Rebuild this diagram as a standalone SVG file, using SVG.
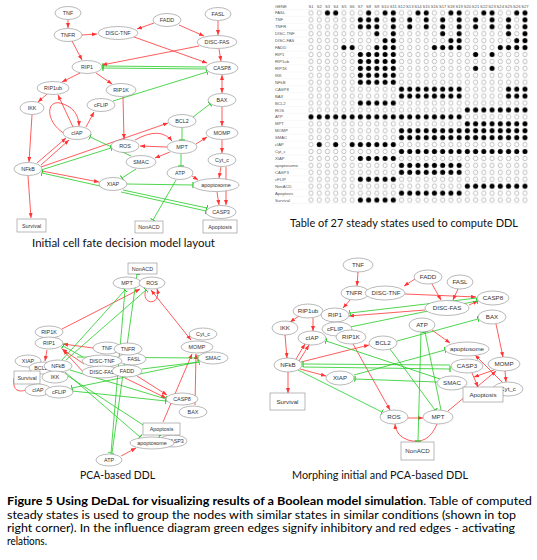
<svg xmlns="http://www.w3.org/2000/svg" width="537" height="560" viewBox="0 0 537 560">
<style>
.n ellipse,.n rect{fill:#fff;stroke:#8a8a8a;stroke-width:0.6}
.n text{font-family:"Liberation Sans",Arial,sans-serif;font-size:5.4px;fill:#333;text-anchor:middle}
.p3 text{font-size:6.2px}
.r{stroke:#f33;stroke-width:0.8;fill:none;marker-end:url(#ar)}
.rb{marker-start:url(#ar)}
.g{stroke:#2c2;stroke-width:0.8;fill:none;marker-end:url(#tb)}
.cap{font-family:Lato,"Open Sans",sans-serif;font-size:10.5px;fill:#111}
.tl{font-family:"Liberation Sans",Arial,sans-serif;font-size:4.2px;fill:#555}
.th{font-family:"Liberation Sans",Arial,sans-serif;font-size:4.2px;fill:#555;text-anchor:middle}
.fd{fill:url(#dotF)}
.para{font-family:Lato,"Open Sans",sans-serif;font-size:11px;fill:#000}
</style>
<defs>
<marker id="ar" viewBox="0 0 10 8" refX="10" refY="4" markerWidth="5" markerHeight="4" orient="auto-start-reverse" markerUnits="userSpaceOnUse"><path d="M0,0 L10,4 L0,8 z" fill="#f33"/></marker>
<marker id="tb" viewBox="0 0 2 10" refX="1" refY="5" markerWidth="1.2" markerHeight="6" orient="auto" markerUnits="userSpaceOnUse"><rect x="0" y="0" width="2" height="10" fill="#2c2"/></marker>
<pattern id="dotO" patternUnits="userSpaceOnUse" x="306.885" y="2.535" width="8.23" height="6.93"><circle cx="4.115" cy="3.465" r="2.2" fill="#fff" stroke="#999" stroke-width="0.6"/></pattern>
<pattern id="dotF" patternUnits="userSpaceOnUse" x="306.885" y="2.535" width="8.23" height="6.93"><circle cx="4.115" cy="3.465" r="2.5" fill="#000"/></pattern>
</defs>
<rect width="537" height="560" fill="#fff"/>

<!-- ============ PANEL 1 : connectors ============ -->
<g id="p1-edges">
<path class="r" d="M68,20 L68,28"/>
<path class="r" d="M82,35 L97,34"/>
<path class="r" d="M154,23 L137,29"/>
<path class="r" d="M179,25 L204,36"/>
<path class="r" d="M218,21 L218,35"/>
<path class="r" d="M72,41 L82,60"/>
<path class="r" d="M134,37 L207,63"/>
<path class="r" d="M199,46 L102,65"/>
<path class="r" d="M219,49 L221,61"/>
<path class="g" d="M206,67 L103,66"/>
<path class="g" d="M206,69 L103,68"/>
<path class="r" d="M80,73 L62,82"/>
<path class="r" d="M96,73 L112,84"/>
<path class="r" d="M47,94 L38,102"/>
<path class="g" d="M113,101 L207,72"/>
<path class="r rb" d="M222,75 L222,93"/>
<path class="r" d="M123,97 L124,139"/>
<path class="r" d="M32,115 L29,162"/>
<path class="r" d="M73,127 L58,95"/>
<path class="r" d="M65,134 C45,122 46,100 60,103 C72,106 79,114 79,126"/>
<path class="r" d="M86,127 L94,112"/>
<path class="r" d="M37,163 L66,138"/>
<path class="r" d="M41,165 L69,140"/>
<path class="r" d="M41,167 L168,123"/>
<path class="g" d="M41,170 L111,148"/>
<path class="g" d="M131,156 L90,137"/>
<path class="g" d="M136,169 L122,178"/>
<path class="r" d="M42,171 L99,182"/>
<path class="g" d="M100,186 L42,173"/>
<path class="r" d="M28,176 L31,218"/>
<path class="g" d="M127,184 L193,185"/>
<path class="g" d="M123,190 L207,208"/>
<path class="g" d="M121,192 L206,211"/>
<path class="g" d="M193,117 L210,104"/>
<path class="g" d="M182,128 L182,140"/>
<path class="r" d="M167,147 L140,146"/>
<path class="r" d="M170,152 L155,158"/>
<path class="r" d="M196,144 L207,137"/>
<path class="r" d="M135,140 Q160,126 172,141"/>
<path class="g" d="M181,154 L181,166"/>
<path class="g" d="M176,180 L153,220"/>
<path class="r" d="M192,176 L198,180"/>
<path class="r" d="M222,107 L222,126"/>
<path class="r" d="M222,140 L222,153"/>
<path class="r" d="M221,167 L219,178"/>
<path class="r" d="M217,192 L219,205"/>
<path class="r" d="M226,167 L226,205"/>
</g>

<!-- ============ PANEL 1 : nodes ============ -->
<g id="p1-TNF" class="n"><ellipse cx="68" cy="13" rx="13" ry="6.5"/><text x="68" y="15">TNF</text></g>
<g id="p1-TNFR" class="n"><ellipse cx="68" cy="35" rx="14" ry="6.5"/><text x="68" y="37">TNFR</text></g>
<g id="p1-DISC-TNF" class="n"><ellipse cx="118" cy="33" rx="20" ry="6.5"/><text x="118" y="35">DISC-TNF</text></g>
<g id="p1-FADD" class="n"><ellipse cx="167" cy="20" rx="14" ry="6.5"/><text x="167" y="22">FADD</text></g>
<g id="p1-FASL" class="n"><ellipse cx="218" cy="14" rx="13" ry="6.5"/><text x="218" y="16">FASL</text></g>
<g id="p1-DISC-FAS" class="n"><ellipse cx="217" cy="42" rx="20" ry="6.5"/><text x="217" y="44">DISC-FAS</text></g>
<g id="p1-RIP1" class="n"><ellipse cx="87" cy="67" rx="15" ry="6.5"/><text x="87" y="69">RIP1</text></g>
<g id="p1-CASP8" class="n"><ellipse cx="222" cy="68" rx="16" ry="6.5"/><text x="222" y="70">CASP8</text></g>
<g id="p1-RIP1ub" class="n"><ellipse cx="53" cy="88" rx="16" ry="6.5"/><text x="53" y="90">RIP1ub</text></g>
<g id="p1-RIP1K" class="n"><ellipse cx="121" cy="90" rx="15" ry="6.5"/><text x="121" y="92">RIP1K</text></g>
<g id="p1-IKK" class="n"><ellipse cx="32" cy="108" rx="12" ry="6.5"/><text x="32" y="110">IKK</text></g>
<g id="p1-cFLIP" class="n"><ellipse cx="101" cy="105" rx="14" ry="6.5"/><text x="101" y="107">cFLIP</text></g>
<g id="p1-BAX" class="n"><ellipse cx="222" cy="100" rx="14" ry="6.5"/><text x="222" y="102">BAX</text></g>
<g id="p1-cIAP" class="n"><ellipse cx="77" cy="133" rx="14" ry="6.5"/><text x="77" y="135">cIAP</text></g>
<g id="p1-BCL2" class="n"><ellipse cx="182" cy="121" rx="14" ry="6.5"/><text x="182" y="123">BCL2</text></g>
<g id="p1-MOMP" class="n"><ellipse cx="222" cy="133" rx="16" ry="6.5"/><text x="222" y="135">MOMP</text></g>
<g id="p1-ROS" class="n"><ellipse cx="125" cy="146" rx="14" ry="6.5"/><text x="125" y="148">ROS</text></g>
<g id="p1-MPT" class="n"><ellipse cx="182" cy="147" rx="15" ry="6.5"/><text x="182" y="149">MPT</text></g>
<g id="p1-SMAC" class="n"><ellipse cx="141" cy="162" rx="15" ry="6.5"/><text x="141" y="164">SMAC</text></g>
<g id="p1-NFkB" class="n"><ellipse cx="28" cy="169" rx="14" ry="6.5"/><text x="28" y="171">NFkB</text></g>
<g id="p1-Cyt_c" class="n"><ellipse cx="222" cy="160" rx="14" ry="6.5"/><text x="222" y="162">Cyt_c</text></g>
<g id="p1-ATP" class="n"><ellipse cx="180" cy="173" rx="13" ry="6.5"/><text x="180" y="175">ATP</text></g>
<g id="p1-XIAP" class="n"><ellipse cx="113" cy="184" rx="14" ry="6.5"/><text x="113" y="186">XIAP</text></g>
<g id="p1-apoptosome" class="n"><ellipse cx="216" cy="185" rx="23" ry="6.5"/><text x="216" y="187">apoptosome</text></g>
<g id="p1-CASP3" class="n"><ellipse cx="221" cy="212" rx="15" ry="6.5"/><text x="221" y="214">CASP3</text></g>
<g id="p1-Survival" class="n"><rect x="17" y="219" width="29" height="13"/><text x="31.5" y="227.5">Survival</text></g>
<g id="p1-NonACD" class="n"><rect x="135" y="221" width="28" height="12"/><text x="149" y="229">NonACD</text></g>
<g id="p1-Apoptosis" class="n"><rect x="203" y="220" width="34" height="13"/><text x="220" y="228.5">Apoptosis</text></g>

<text class="cap" x="32" y="247" textLength="183" lengthAdjust="spacingAndGlyphs">Initial cell fate decision model layout</text>

<!-- ============ TABLE ============ -->
<g id="table">
<g stroke="#eeeeee" stroke-width="0.4">
<path d="M273,9.465 H529 M273,16.395 H529 M273,23.325 H529 M273,30.255 H529 M273,37.185 H529 M273,44.115 H529 M273,51.045 H529 M273,57.975 H529 M273,64.905 H529 M273,71.835 H529 M273,78.765 H529 M273,85.695 H529 M273,92.625 H529 M273,99.555 H529 M273,106.485 H529 M273,113.415 H529 M273,120.345 H529 M273,127.275 H529 M273,134.205 H529 M273,141.135 H529 M273,148.065 H529 M273,154.995 H529 M273,161.925 H529 M273,168.855 H529 M273,175.785 H529 M273,182.715 H529 M273,189.645 H529 M273,196.575 H529 M273,203.5 H529"/>
</g>
<rect x="306.885" y="9.465" width="222.21" height="194.04" fill="url(#dotO)"/>
<rect class="fd" x="323.345" y="9.465" width="16.46" height="6.93"/>
<rect class="fd" x="364.495" y="9.465" width="8.23" height="6.93"/>
<rect class="fd" x="380.955" y="9.465" width="16.46" height="6.93"/>
<rect class="fd" x="413.875" y="9.465" width="16.46" height="6.93"/>
<rect class="fd" x="446.795" y="9.465" width="16.46" height="6.93"/>
<rect class="fd" x="479.715" y="9.465" width="16.46" height="6.93"/>
<rect class="fd" x="512.635" y="9.465" width="16.46" height="6.93"/>
<rect class="fd" x="356.265" y="16.395" width="24.69" height="13.86"/>
<rect class="fd" x="389.185" y="16.395" width="8.23" height="13.86"/>
<rect class="fd" x="405.645" y="16.395" width="8.23" height="13.86"/>
<rect class="fd" x="422.105" y="16.395" width="8.23" height="13.86"/>
<rect class="fd" x="438.565" y="16.395" width="8.23" height="13.86"/>
<rect class="fd" x="455.025" y="16.395" width="8.23" height="13.86"/>
<rect class="fd" x="471.485" y="16.395" width="8.23" height="13.86"/>
<rect class="fd" x="487.945" y="16.395" width="8.23" height="13.86"/>
<rect class="fd" x="504.405" y="16.395" width="8.23" height="13.86"/>
<rect class="fd" x="520.865" y="16.395" width="8.23" height="13.86"/>
<rect class="fd" x="372.725" y="30.255" width="8.23" height="6.93"/>
<rect class="fd" x="389.185" y="30.255" width="8.23" height="6.93"/>
<rect class="fd" x="438.565" y="30.255" width="8.23" height="6.93"/>
<rect class="fd" x="455.025" y="30.255" width="8.23" height="6.93"/>
<rect class="fd" x="504.405" y="30.255" width="8.23" height="6.93"/>
<rect class="fd" x="520.865" y="30.255" width="8.23" height="6.93"/>
<rect class="fd" x="380.955" y="37.185" width="16.46" height="6.93"/>
<rect class="fd" x="446.795" y="37.185" width="16.46" height="6.93"/>
<rect class="fd" x="512.635" y="37.185" width="16.46" height="6.93"/>
<rect class="fd" x="339.805" y="44.115" width="16.46" height="6.93"/>
<rect class="fd" x="372.725" y="44.115" width="24.69" height="6.93"/>
<rect class="fd" x="430.335" y="44.115" width="32.92" height="6.93"/>
<rect class="fd" x="496.175" y="44.115" width="32.92" height="6.93"/>
<rect class="fd" x="356.265" y="51.045" width="41.15" height="34.65"/>
<rect class="fd" x="471.485" y="51.045" width="8.23" height="6.93"/>
<rect class="fd" x="487.945" y="51.045" width="8.23" height="6.93"/>
<rect class="fd" x="471.485" y="64.905" width="8.23" height="6.93"/>
<rect class="fd" x="487.945" y="64.905" width="8.23" height="6.93"/>
<rect class="fd" x="397.415" y="85.695" width="65.84" height="13.86"/>
<rect class="fd" x="504.405" y="85.695" width="24.69" height="13.86"/>
<rect class="fd" x="356.265" y="99.555" width="41.15" height="6.93"/>
<rect class="fd" x="463.255" y="106.485" width="65.84" height="6.93"/>
<rect class="fd" x="306.885" y="113.415" width="156.37" height="6.93"/>
<rect class="fd" x="463.255" y="120.345" width="65.84" height="6.93"/>
<rect class="fd" x="397.415" y="127.275" width="131.68" height="13.86"/>
<rect class="fd" x="315.115" y="141.135" width="8.23" height="6.93"/>
<rect class="fd" x="331.575" y="141.135" width="8.23" height="6.93"/>
<rect class="fd" x="348.035" y="141.135" width="49.38" height="6.93"/>
<rect class="fd" x="397.415" y="148.065" width="131.68" height="6.93"/>
<rect class="fd" x="356.265" y="154.995" width="41.15" height="6.93"/>
<rect class="fd" x="397.415" y="161.925" width="65.84" height="13.86"/>
<rect class="fd" x="356.265" y="175.785" width="41.15" height="6.93"/>
<rect class="fd" x="463.255" y="182.715" width="65.84" height="6.93"/>
<rect class="fd" x="397.415" y="189.645" width="65.84" height="6.93"/>
<rect class="fd" x="356.265" y="196.575" width="41.15" height="6.93"/>
<text class="tl" x="275" y="7.5">GENE</text>
<text class="tl" x="275" y="14.4">FASL</text>
<text class="tl" x="275" y="21.4">TNF</text>
<text class="tl" x="275" y="28.3">TNFR</text>
<text class="tl" x="275" y="35.2">DISC-TNF</text>
<text class="tl" x="275" y="42.2">DISC-FAS</text>
<text class="tl" x="275" y="49.1">FADD</text>
<text class="tl" x="275" y="56.0">RIP1</text>
<text class="tl" x="275" y="63.0">RIP1ub</text>
<text class="tl" x="275" y="69.9">RIP1K</text>
<text class="tl" x="275" y="76.8">IKK</text>
<text class="tl" x="275" y="83.8">NFkB</text>
<text class="tl" x="275" y="90.7">CASP8</text>
<text class="tl" x="275" y="97.6">BAX</text>
<text class="tl" x="275" y="104.5">BCL2</text>
<text class="tl" x="275" y="111.5">ROS</text>
<text class="tl" x="275" y="118.4">ATP</text>
<text class="tl" x="275" y="125.3">MPT</text>
<text class="tl" x="275" y="132.3">MOMP</text>
<text class="tl" x="275" y="139.2">SMAC</text>
<text class="tl" x="275" y="146.1">cIAP</text>
<text class="tl" x="275" y="153.1">Cyt_c</text>
<text class="tl" x="275" y="160.0">XIAP</text>
<text class="tl" x="275" y="166.9">apoptosome</text>
<text class="tl" x="275" y="173.9">CASP3</text>
<text class="tl" x="275" y="180.8">cFLIP</text>
<text class="tl" x="275" y="187.7">NonACD</text>
<text class="tl" x="275" y="194.6">Apoptosis</text>
<text class="tl" x="275" y="201.6">Survival</text>
<text class="th" x="311" y="7.5">S1</text>
<text class="th" x="319.23" y="7.5">S2</text>
<text class="th" x="327.46" y="7.5">S3</text>
<text class="th" x="335.69" y="7.5">S4</text>
<text class="th" x="343.92" y="7.5">S5</text>
<text class="th" x="352.15" y="7.5">S6</text>
<text class="th" x="360.38" y="7.5">S7</text>
<text class="th" x="368.61" y="7.5">S8</text>
<text class="th" x="376.84" y="7.5">S9</text>
<text class="th" x="385.07" y="7.5">S10</text>
<text class="th" x="393.3" y="7.5">S11</text>
<text class="th" x="401.53" y="7.5">S12</text>
<text class="th" x="409.76" y="7.5">S13</text>
<text class="th" x="417.99" y="7.5">S14</text>
<text class="th" x="426.22" y="7.5">S15</text>
<text class="th" x="434.45" y="7.5">S16</text>
<text class="th" x="442.68" y="7.5">S17</text>
<text class="th" x="450.91" y="7.5">S18</text>
<text class="th" x="459.14" y="7.5">S19</text>
<text class="th" x="467.37" y="7.5">S20</text>
<text class="th" x="475.6" y="7.5">S21</text>
<text class="th" x="483.83" y="7.5">S22</text>
<text class="th" x="492.06" y="7.5">S23</text>
<text class="th" x="500.29" y="7.5">S24</text>
<text class="th" x="508.52" y="7.5">S25</text>
<text class="th" x="516.75" y="7.5">S26</text>
<text class="th" x="524.98" y="7.5">S27</text>
</g>
<text class="cap" x="290" y="227" textLength="228" lengthAdjust="spacingAndGlyphs">Table of 27 steady states used to compute DDL</text>

<!-- ============ PANEL 2 : connectors ============ -->
<g id="p2-edges">
<path class="r" d="M62,329 L140,289"/>
<path class="r" d="M146,289 C140,306 162,306 157,289"/>
<path class="r rb" d="M151,290 L191,340"/>
<path class="r" d="M93,348 L63,344"/>
<path class="r" d="M84,364 L62,349"/>
<path class="r" d="M85,374 L63,350"/>
<path class="r" d="M137,376 L167,395"/>
<path class="r" d="M125,378 L166,398"/>
<path class="r" d="M163,422 L192,354"/>
<path class="r" d="M195,405 L196,354"/>
<path class="r" d="M121,456 L136,448"/>
<path class="r" d="M47,350 L45,361"/>
<path d="M14,378 C12,392 20,392 26,390" stroke="#f33" stroke-width="0.8" fill="none"/>
<path class="g" d="M77,357 L198,358"/>
<path class="g" d="M142,369 L199,362"/>
<path class="g" d="M62,360 L125,290"/>
<path class="g" d="M66,360 L146,290"/>
<path class="g" d="M125,290 L111,453"/>
<path class="g" d="M112,453 L137,274"/>
<path class="g" d="M70,370 L166,399"/>
<path class="g" d="M72,391 L166,401"/>
<path class="g" d="M65,372 L140,437"/>
<path class="g" d="M68,376 L160,436"/>
<path class="g" d="M198,362 L72,388"/>
<path class="g" d="M83,357 L63,346"/>
</g>

<!-- ============ PANEL 2 : nodes ============ -->
<g id="p2-NonACD" class="n"><rect x="128" y="263" width="29" height="11"/><text x="142.5" y="270.5">NonACD</text></g>
<g id="p2-MPT" class="n"><ellipse cx="127" cy="283" rx="14" ry="6"/><text x="127" y="285">MPT</text></g>
<g id="p2-ROS" class="n"><ellipse cx="152" cy="283" rx="13" ry="6"/><text x="152" y="285">ROS</text></g>
<g id="p2-RIP1K" class="n"><ellipse cx="49" cy="332" rx="14" ry="6"/><text x="49" y="334">RIP1K</text></g>
<g id="p2-RIP1" class="n"><ellipse cx="49" cy="343" rx="14" ry="6"/><text x="49" y="345">RIP1</text></g>
<g id="p2-Cyt_c" class="n"><ellipse cx="203" cy="334" rx="14" ry="6"/><text x="203" y="336">Cyt_c</text></g>
<g id="p2-MOMP" class="n"><ellipse cx="197" cy="347" rx="16" ry="6"/><text x="197" y="349">MOMP</text></g>
<g id="p2-SMAC" class="n"><ellipse cx="213" cy="358" rx="15" ry="6"/><text x="213" y="360">SMAC</text></g>
<g id="p2-FASL" class="n"><ellipse cx="132" cy="359" rx="14" ry="6"/><text x="134" y="361">FASL</text></g>
<g id="p2-TNF" class="n"><ellipse cx="107" cy="348" rx="14" ry="6"/><text x="107" y="350">TNF</text></g>
<g id="p2-TNFR" class="n"><ellipse cx="128" cy="349" rx="14" ry="6"/><text x="128" y="351">TNFR</text></g>
<g id="p2-DISC-TNF" class="n"><ellipse cx="102" cy="361" rx="20" ry="6"/><text x="102" y="363">DISC-TNF</text></g>
<g id="p2-DISC-FAS" class="n"><ellipse cx="102" cy="372" rx="20" ry="6"/><text x="102" y="374">DISC-FAS</text></g>
<g id="p2-FADD" class="n"><ellipse cx="127" cy="371" rx="15" ry="6"/><text x="127" y="373">FADD</text></g>
<g id="p2-XIAP" class="n"><ellipse cx="28" cy="361" rx="13" ry="6"/><text x="28" y="363">XIAP</text></g>
<g id="p2-BCL2" class="n"><ellipse cx="43" cy="368" rx="14" ry="6"/><text x="41" y="370">BCL2</text></g>
<g id="p2-Survival" class="n"><rect x="14" y="371" width="26" height="13"/><text x="27" y="379.5">Survival</text></g>
<g id="p2-NFkB" class="n"><ellipse cx="58" cy="366" rx="14" ry="6"/><text x="58" y="368">NFkB</text></g>
<g id="p2-IKK" class="n"><ellipse cx="55" cy="377" rx="13" ry="6"/><text x="55" y="379">IKK</text></g>
<g id="p2-cIAP" class="n"><ellipse cx="38" cy="390" rx="13" ry="6"/><text x="38" y="392">cIAP</text></g>
<g id="p2-cFLIP" class="n"><ellipse cx="59" cy="392" rx="14" ry="6"/><text x="59" y="394">cFLIP</text></g>
<g id="p2-CASP8" class="n"><ellipse cx="182" cy="399" rx="16" ry="6"/><text x="182" y="401">CASP8</text></g>
<g id="p2-BAX" class="n"><ellipse cx="193" cy="412" rx="14" ry="6"/><text x="193" y="414">BAX</text></g>
<g id="p2-CASP3" class="n"><ellipse cx="173" cy="441" rx="14" ry="6"/><text x="175" y="443">CASP3</text></g>
<g id="p2-apoptosome" class="n"><ellipse cx="152" cy="443" rx="22" ry="6"/><text x="152" y="445">apoptosome</text></g>
<g id="p2-Apoptosis" class="n"><rect x="143" y="423" width="37" height="12"/><text x="161.5" y="431">Apoptosis</text></g>
<g id="p2-ATP" class="n"><ellipse cx="109" cy="460" rx="13" ry="6"/><text x="109" y="462">ATP</text></g>

<text class="cap" x="80" y="479" textLength="75" lengthAdjust="spacingAndGlyphs">PCA-based DDL</text>

<!-- ============ PANEL 3 : connectors ============ -->
<g id="p3-edges">
<path class="r" d="M358,272 L357,286"/>
<path class="r" d="M415,279 L404,286"/>
<path class="r" d="M432,284 L441,300"/>
<path class="r" d="M458,289 L453,300"/>
<path class="r" d="M405,294 L476,297"/>
<path class="r" d="M469,305 L478,301"/>
<path class="r" d="M425,310 L349,316"/>
<path class="r" d="M350,300 L343,308"/>
<path class="r" d="M299,316 L290,322"/>
<path class="r" d="M313,318 L313,331"/>
<path class="r" d="M285,335 L287,358"/>
<path class="r" d="M296,359 L305,344"/>
<path class="r" d="M299,361 L309,345"/>
<path class="r" d="M301,362 L369,345"/>
<path class="r" d="M300,369 L326,376"/>
<path class="r" d="M288,372 L288,393"/>
<path class="r" d="M353,344 L390,410"/>
<path class="r" d="M432,330 L450,343"/>
<path class="r" d="M496,324 L503,357"/>
<path class="r" d="M503,383 L475,355"/>
<path class="r" d="M494,370 L474,377"/>
<path class="r" d="M505,371 L506,382"/>
<path class="r" d="M472,373 L478,387"/>
<path class="r" d="M448,411 L496,371"/>
<path class="r" d="M408,418 L423,418"/>
<path class="r" d="M437,424 Q428,446 408,440 Q396,436 395,424"/>
<path class="g" d="M477,298 L350,313"/>
<path class="g" d="M350,327 L477,301"/>
<path class="g" d="M397,341 L478,319"/>
<path class="g" d="M390,349 L435,410"/>
<path class="g" d="M421,332 L418,441"/>
<path class="g" d="M441,410 L425,332"/>
<path class="g" d="M298,370 L382,412"/>
<path class="g" d="M450,365 L303,364"/>
<path class="g" d="M303,367 L450,369"/>
<path class="g" d="M354,375 L445,350"/>
<path class="g" d="M437,382 L355,379"/>
<path class="g" d="M440,379 L326,341"/>
</g>

<!-- ============ PANEL 3 : nodes ============ -->
<g class="p3">
<g id="p3-TNF" class="n"><ellipse cx="358" cy="265" rx="15" ry="7"/><text x="358" y="267.2">TNF</text></g>
<g id="p3-TNFR" class="n"><ellipse cx="355" cy="293" rx="14" ry="7"/><text x="354" y="295.2">TNFR</text></g>
<g id="p3-DISC-TNF" class="n"><ellipse cx="385" cy="293" rx="20" ry="7"/><text x="386" y="295.2">DISC-TNF</text></g>
<g id="p3-FADD" class="n"><ellipse cx="428" cy="277" rx="14" ry="7"/><text x="428" y="279.2">FADD</text></g>
<g id="p3-FASL" class="n"><ellipse cx="460" cy="282" rx="13" ry="7"/><text x="460" y="284.2">FASL</text></g>
<g id="p3-CASP8" class="n"><ellipse cx="493" cy="298" rx="16" ry="7"/><text x="493" y="300.2">CASP8</text></g>
<g id="p3-DISC-FAS" class="n"><ellipse cx="447" cy="308" rx="22" ry="7.5"/><text x="447" y="310.2">DISC-FAS</text></g>
<g id="p3-RIP1ub" class="n"><ellipse cx="308" cy="311" rx="15" ry="7"/><text x="308" y="313.2">RIP1ub</text></g>
<g id="p3-RIP1" class="n"><ellipse cx="335" cy="315" rx="14" ry="7"/><text x="335" y="317.2">RIP1</text></g>
<g id="p3-BAX" class="n"><ellipse cx="492" cy="317" rx="14" ry="7"/><text x="492" y="319.2">BAX</text></g>
<g id="p3-ATP" class="n"><ellipse cx="422" cy="325" rx="13" ry="7"/><text x="422" y="327.2">ATP</text></g>
<g id="p3-IKK" class="n"><ellipse cx="285" cy="328" rx="13" ry="7"/><text x="285" y="330.2">IKK</text></g>
<g id="p3-cIAP" class="n"><ellipse cx="312" cy="338" rx="14" ry="7"/><text x="312" y="340.2">cIAP</text></g>
<g id="p3-cFLIP" class="n"><ellipse cx="337" cy="329" rx="15" ry="7"/><text x="335" y="331.2">cFLIP</text></g>
<g id="p3-RIP1K" class="n"><ellipse cx="351" cy="337" rx="15" ry="7"/><text x="351" y="339.2">RIP1K</text></g>
<g id="p3-BCL2" class="n"><ellipse cx="383" cy="343" rx="14" ry="7"/><text x="383" y="345.2">BCL2</text></g>
<g id="p3-apoptosome" class="n"><ellipse cx="467" cy="349" rx="22" ry="7"/><text x="467" y="351.2">apoptosome</text></g>
<g id="p3-NFkB" class="n"><ellipse cx="288" cy="365" rx="14" ry="7"/><text x="288" y="367.2">NFkB</text></g>
<g id="p3-MOMP" class="n"><ellipse cx="504" cy="364" rx="16" ry="7"/><text x="504" y="366.2">MOMP</text></g>
<g id="p3-CASP3" class="n"><ellipse cx="467" cy="366" rx="16" ry="7"/><text x="467" y="368.2">CASP3</text></g>
<g id="p3-XIAP" class="n"><ellipse cx="340" cy="378" rx="14" ry="7"/><text x="340" y="380.2">XIAP</text></g>
<g id="p3-SMAC" class="n"><ellipse cx="452" cy="383" rx="15" ry="7"/><text x="452" y="385.2">SMAC</text></g>
<g id="p3-Cyt_c" class="n"><ellipse cx="508" cy="389" rx="15" ry="7"/><text x="508" y="391.2">Cyt_c</text></g>
<g id="p3-Apoptosis" class="n"><rect x="463" y="387" width="40" height="15"/><text x="483" y="397">Apoptosis</text></g>
<g id="p3-Survival" class="n"><rect x="270" y="393" width="35" height="17"/><text x="287.5" y="404">Survival</text></g>
<g id="p3-ROS" class="n"><ellipse cx="394" cy="417" rx="14" ry="7"/><text x="394" y="419.2">ROS</text></g>
<g id="p3-MPT" class="n"><ellipse cx="438" cy="417" rx="15" ry="7"/><text x="438" y="419.2">MPT</text></g>
<g id="p3-NonACD" class="n"><rect x="401" y="442" width="33" height="18"/><text x="417.5" y="453.2">NonACD</text></g>
</g>

<text class="cap" x="292" y="479" textLength="176" lengthAdjust="spacingAndGlyphs">Morphing initial and PCA-based DDL</text>

<!-- ============ FIGURE CAPTION ============ -->
<text class="para" x="7" y="505" textLength="525" lengthAdjust="spacingAndGlyphs"><tspan font-weight="bold">Figure 5 Using DeDaL for visualizing results of a Boolean model simulation</tspan>. Table of computed</text>
<text class="para" x="7" y="519" textLength="509" lengthAdjust="spacingAndGlyphs">steady states is used to group the nodes with similar states in similar conditions (shown in top</text>
<text class="para" x="7" y="532" textLength="508" lengthAdjust="spacingAndGlyphs">right corner). In the influence diagram green edges signify inhibitory and red edges - activating</text>
<text class="para" x="7" y="545" textLength="40" lengthAdjust="spacingAndGlyphs">relations.</text>
</svg>
